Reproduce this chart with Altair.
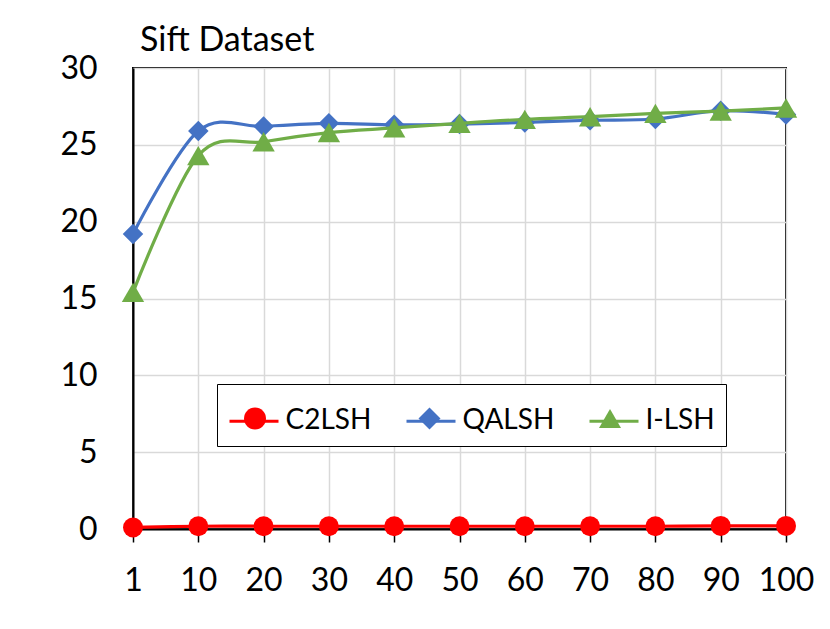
import altair as alt
import pandas as pd

# ---- data ----
k_labels = ["1", "10", "20", "30", "40", "50", "60", "70", "80", "90", "100"]
series = ["C2LSH", "QALSH", "I-LSH"]
c2lsh = [0.10, 0.18, 0.18, 0.18, 0.18, 0.18, 0.18, 0.18, 0.18, 0.20, 0.20]
qalsh = [19.2, 25.9, 26.2, 26.4, 26.3, 26.35, 26.46, 26.6, 26.68, 27.22, 26.98]
ilsh = [15.4, 24.3, 25.2, 25.8, 26.1, 26.4, 26.66, 26.83, 27.05, 27.2, 27.4]
colors = ["#FF0000", "#4472C4", "#70AD47"]
shapes = ["circle", "diamond", "triangle-up"]
marker_sizes = [400, 420, 500]
y_ticks = [0, 5, 10, 15, 20, 25, 30]

values_by_series = [c2lsh, qalsh, ilsh]
rows = []
for s, vals in zip(series, values_by_series):
    for k, v in zip(k_labels, vals):
        rows.append({"k": k, "series": s, "value": v})
df = pd.DataFrame(rows)

FONT = "Lato"
LEG_X, LEG_Y, LEG_PAD = 84, 316, 10.5
LEG_FS = 28

# legend A: line stubs (with the frame and the visible labels)
legend_lines = alt.Legend(
    title=None,
    orient="none",
    legendX=LEG_X,
    legendY=LEG_Y,
    direction="horizontal",
    values=series,
    symbolType="stroke",
    symbolSize=2401,
    symbolStrokeWidth=3.2,
    labelFont=FONT,
    labelFontSize=LEG_FS,
    labelColor="black",
    labelOffset=5,
    columnPadding=28,
    padding=LEG_PAD,
    strokeColor="black",
    fillColor="white",
)
# legend B: markers drawn over the middle of the stubs (its labels are hidden)
legend_marks = alt.Legend(
    title=None,
    orient="none",
    legendX=LEG_X + 24,
    legendY=LEG_Y + 20.5,
    direction="horizontal",
    symbolSize=484,
    symbolOpacity=1,
    labelFont=FONT,
    labelFontSize=LEG_FS,
    labelOpacity=0,
    labelOffset=18.5,
    columnPadding=41.5,
    padding=0,
)

x_enc = alt.X(
    "k:O",
    sort=k_labels,
    scale=alt.Scale(type="point", padding=0),
    axis=alt.Axis(
        title=None,
        labelAngle=0,
        labelFont=FONT,
        labelFontSize=32,
        labelColor="black",
        tickColor="black",
        tickSize=13,
        tickWidth=1.5,
        labelPadding=23,
        domainColor="black",
        domainWidth=2,
        grid=True,
        gridColor="#D9D9D9",
        gridWidth=1.5,
    ),
)
y_enc = alt.Y(
    "value:Q",
    scale=alt.Scale(domain=[0, 30], nice=False),
    axis=alt.Axis(
        title=None,
        values=y_ticks,
        labelFont=FONT,
        labelFontSize=32,
        labelColor="black",
        ticks=False,
        tickSize=0,
        labelPadding=36,
        domainColor="black",
        domainWidth=2,
        grid=True,
        gridColor="#D9D9D9",
        gridWidth=1.5,
    ),
)
color_scale = alt.Scale(domain=series, range=colors)
shape_scale = alt.Scale(domain=series, range=shapes)
# same colours, listed in reverse so this legend stays separate from the marker legend
stroke_scale = alt.Scale(domain=series[::-1], range=colors[::-1])

layers = []
for s, sz in zip(series, marker_sizes):
    base = alt.Chart(df).transform_filter(alt.datum.series == s)
    line = base.mark_line(strokeWidth=3.2, interpolate="cardinal").encode(
        x=x_enc, y=y_enc,
        stroke=alt.Stroke("series:N", scale=stroke_scale, legend=legend_lines),
    )
    pts = base.mark_point(filled=True, size=sz, opacity=1).encode(
        x=x_enc, y=y_enc,
        color=alt.Color("series:N", scale=color_scale, legend=legend_marks),
        shape=alt.Shape("series:N", scale=shape_scale, legend=legend_marks),
    )
    layers += [line, pts]

chart = (
    alt.layer(*layers)
    .properties(
        width=653,
        height=461,
        background="white",
        title=alt.TitleParams(
            "Sift Dataset",
            anchor="start",
            frame="group",
            dx=7,
            offset=-33,
            baseline="alphabetic",
            font=FONT,
            fontSize=34,
            fontWeight="normal",
            color="black",
        ),
        autosize=alt.AutoSizeParams(type="none"),
        padding={"left": 125, "top": 60, "right": 30, "bottom": 85},
    )
    .configure_view(stroke="black", strokeWidth=2)
)

chart.save("out.html", embed_options={"renderer": "svg", "actions": False})
